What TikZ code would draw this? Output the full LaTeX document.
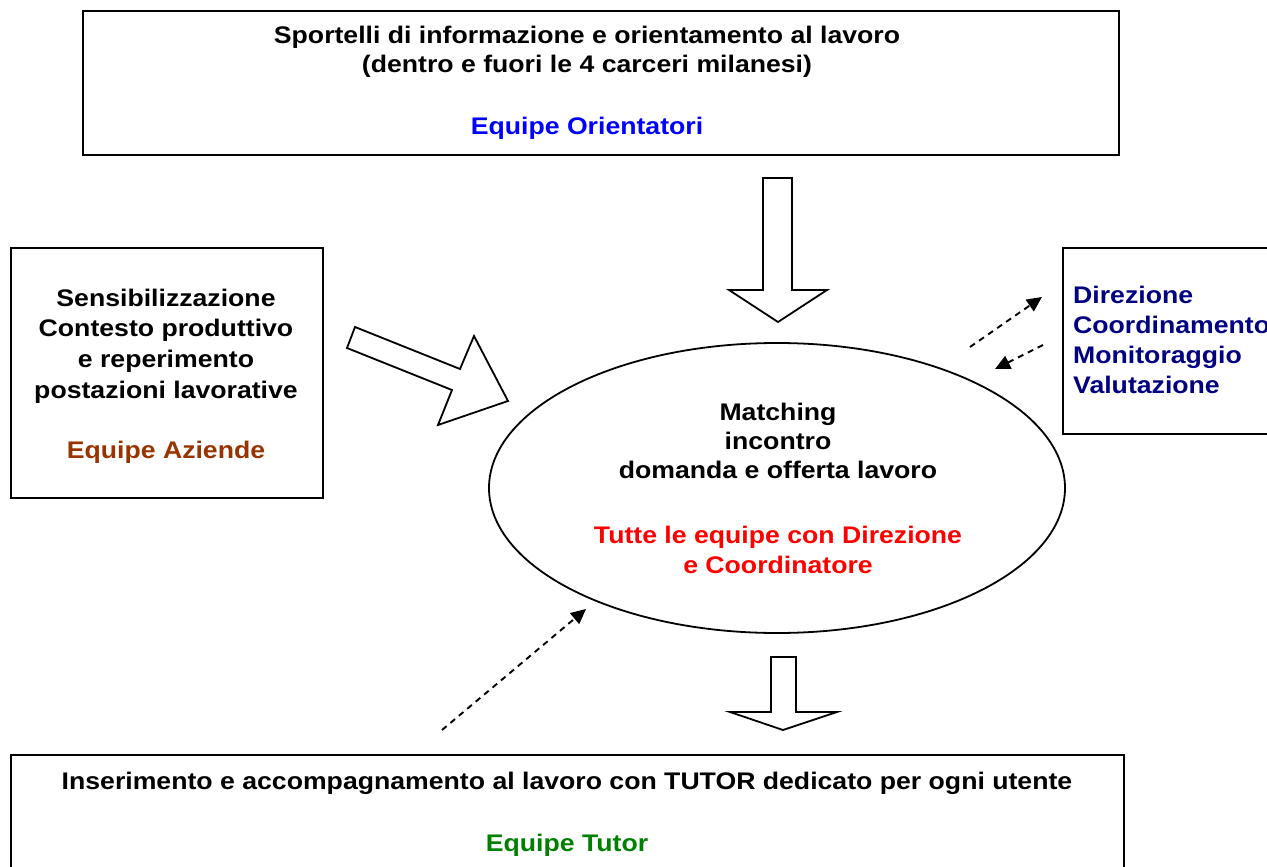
\documentclass[tikz,border=0pt]{standalone}
\usepackage{fontspec}
\setmainfont[FakeStretch=1.11]{Liberation Sans}
\usetikzlibrary{arrows.meta,shapes.geometric}
\definecolor{orblue}{RGB}{0,0,255}
\definecolor{azbrown}{RGB}{153,51,0}
\definecolor{navyblue}{RGB}{0,0,128}
\definecolor{tutgreen}{RGB}{0,128,0}
\definecolor{allred}{RGB}{255,0,0}
\begin{document}
\begin{tikzpicture}[x=1pt,y=-1pt,
  box/.style={draw, line width=2pt, inner sep=0pt, anchor=north west},
  txt/.style={font=\fontsize{24}{29}\selectfont\bfseries, anchor=base, inner sep=0pt},
  ltxt/.style={txt, anchor=base west},
  blockarrow/.style={draw, line width=1.8pt, fill=white, line join=miter},
  dasharrow/.style={draw, line width=1.9pt, dash pattern=on 6pt off 5pt, -{Triangle[length=15pt,width=14pt]}}]
\useasboundingbox (0,0) rectangle (1267,867);
% boxes
\node[box, minimum width=1036pt, minimum height=144pt] (topbox) at (82,10) {};
\node[box, minimum width=312pt, minimum height=250pt] (leftbox) at (10,247) {};
\node[box, minimum width=260pt, minimum height=186pt] (rightbox) at (1062,247) {};
\node[box, minimum width=1113pt, minimum height=160pt] (botbox) at (10,754) {};
\node[draw, ellipse, line width=1.8pt, minimum width=576pt, minimum height=290pt, inner sep=0pt] (match) at (777,488) {};
% top texts
\node[txt] (t1) at (587,44) {Sportelli di informazione e orientamento al lavoro};
\node[txt] (t2) at (587,73) {(dentro e fuori le 4 carceri milanesi)};
\node[txt, text=orblue] (t3) at (587,134) {Equipe Orientatori};
% left texts
\node[txt] (l1) at (166,306) {Sensibilizzazione};
\node[txt] (l2) at (166,336) {Contesto produttivo};
\node[txt] (l3) at (166,367) {e reperimento};
\node[txt] (l4) at (166,398) {postazioni lavorative};
\node[txt, text=azbrown] (l5) at (166,458) {Equipe Aziende};
% ellipse texts
\node[txt] (m1) at (778,420) {Matching};
\node[txt] (m2) at (778,449) {incontro};
\node[txt] (m3) at (778,478) {domanda e offerta lavoro};
\node[txt, text=allred] (m4) at (778,543) {Tutte le equipe con Direzione};
\node[txt, text=allred] (m5) at (778,573) {e Coordinatore};
% right texts
\node[ltxt, text=navyblue] (r1) at (1073,303) {Direzione};
\node[ltxt, text=navyblue] (r2) at (1073,333) {Coordinamento};
\node[ltxt, text=navyblue] (r3) at (1073,363) {Monitoraggio};
\node[ltxt, text=navyblue] (r4) at (1073,393) {Valutazione};
% bottom texts
\node[txt] (b1) at (567,789) {Inserimento e accompagnamento al lavoro con TUTOR dedicato per ogni utente};
\node[txt, text=tutgreen] (b2) at (567,851) {Equipe Tutor};
% block arrows
\path[blockarrow] (763,178) -- (792,178) -- (792,290) -- (827,290) -- (778,322) -- (729,290) -- (763,290) -- cycle;
\path[blockarrow] (771,657) -- (796,657) -- (796,712) -- (837,712) -- (783,730) -- (730,712) -- (771,712) -- cycle;
\path[blockarrow] (355,327) -- (460,369) -- (474,336) -- (508,401) -- (438,425) -- (452,390) -- (347,348) -- cycle;
% dashed arrows
\coordinate (d1s) at (970,347);
\coordinate (d1e) at (1042,297);
\coordinate (d2s) at (1043,345);
\coordinate (d2e) at (995,369);
\coordinate (d3s) at (442,730);
\coordinate (d3e) at (586,609);
\draw[dasharrow] (d1s) -- (d1e);
\draw[dasharrow] (d2s) -- (d2e);
\draw[dasharrow] (d3s) -- (d3e);
\end{tikzpicture}
\end{document}
